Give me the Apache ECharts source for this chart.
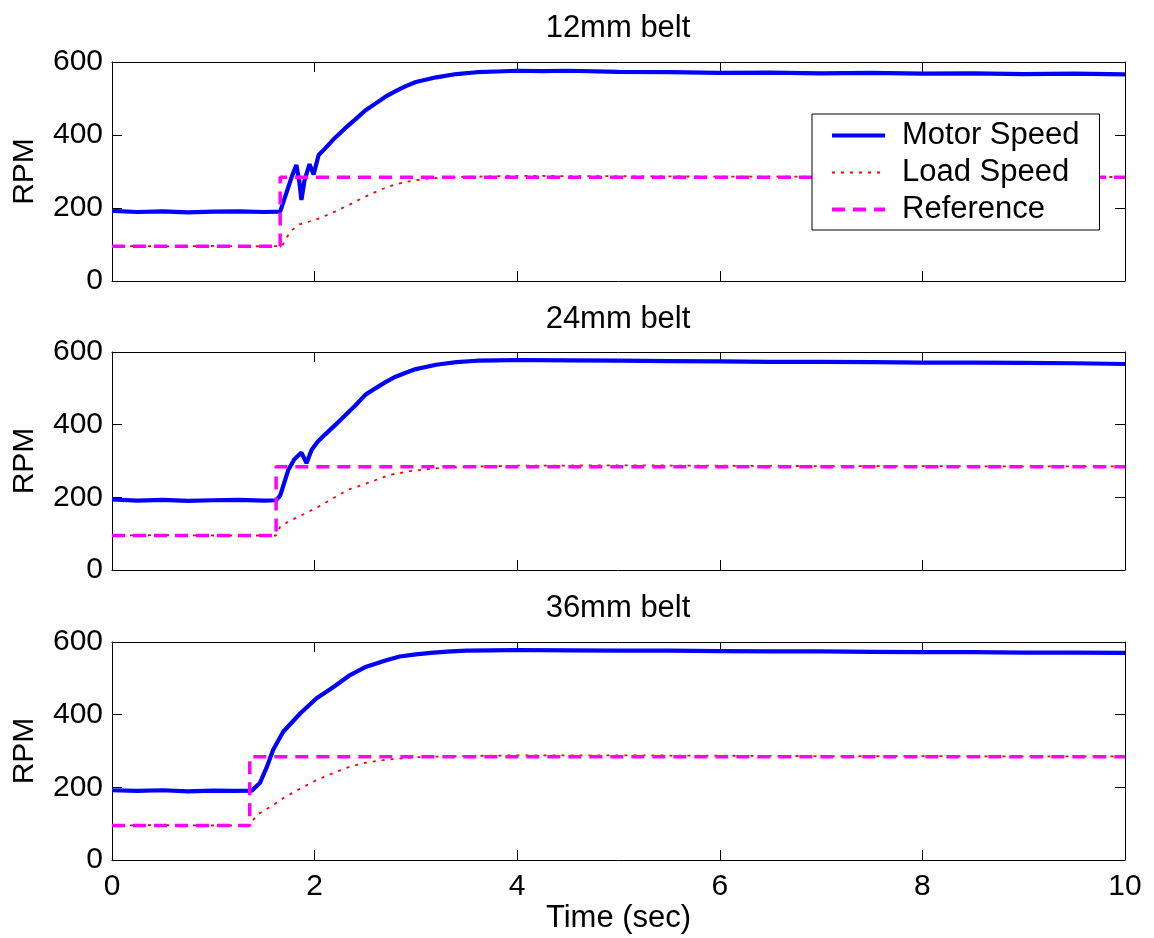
<!DOCTYPE html>
<html>
<head>
<meta charset="utf-8">
<script src="https://cdn.jsdelivr.net/npm/echarts@6/dist/echarts.min.js"></script>
<style>html,body{margin:0;padding:0;background:#fff;}#c{width:1154px;height:938px;}</style>
</head>
<body>
<div id="c"></div>
<script>
// ---------- data ----------
const titles = ['12mm belt', '24mm belt', '36mm belt'];
const seriesNames = ['Motor Speed', 'Load Speed', 'Reference'];
const xTicks = [0, 2, 4, 6, 8, 10];
const yTicks = [0, 200, 400, 600];

// 12mm belt
const tMotor1 = [0,0.25,0.5,0.75,1.0,1.25,1.5,1.66,1.72,1.78,1.82,1.85,1.87,1.90,1.95,1.99,2.04,2.1,2.2,2.3,2.4,2.5,2.6,2.7,2.8,2.9,3.0,3.2,3.4,3.6,3.8,4.0,4.25,4.5,5,5.5,6,6.5,7,7.5,8,8.5,9,9.5,10];
const motor1  = [192,189,191,188,190,191,189,190,240,290,318,270,222,275,320,292,345,362,392,418,442,467,486,505,520,534,545,558,567,572,574,576,575,576,573,572,570,571,569,570,568,569,567,568,566];
const tLoad1 = [0,0.5,1.0,1.5,1.68,1.72,1.78,1.85,1.95,2.05,2.2,2.35,2.5,2.65,2.8,2.95,3.1,3.3,3.6,4,5,6,7,8,9,10];
const load1  = [96,95,96,95,96,118,140,155,163,172,190,210,231,250,265,274,280,284,286,288,287,286,286,285,285,285];
const tRef1 = [0,1.66,1.66,10];
const ref1  = [95,95,284,284];

// 24mm belt
const tMotor2 = [0,0.25,0.5,0.75,1,1.25,1.5,1.62,1.66,1.70,1.74,1.80,1.87,1.92,1.97,2.03,2.1,2.2,2.3,2.4,2.5,2.6,2.7,2.8,2.9,3.0,3.2,3.4,3.6,3.8,4.0,4.5,5,5.5,6,6.5,7,7.5,8,8.5,9,9.5,10];
const motor2  = [194,191,193,190,192,193,191,192,205,240,275,305,323,294,330,353,372,398,425,452,482,500,517,532,543,553,565,572,576,577,578,577,576,575,574,573,573,572,571,571,570,569,567];
const tLoad2 = [0,0.5,1.0,1.62,1.66,1.75,1.86,2.07,2.2,2.32,2.45,2.56,2.74,2.97,3.24,3.6,4,5,6,7,8,9,10];
const load2  = [95,96,95,95,119,135,149,179,200,220,232,243,262,273,281,285,287,288,287,286,286,285,285];
const tRef2 = [0,1.62,1.62,10];
const ref2  = [95,95,284,284];

// 36mm belt
const tMotor3 = [0,0.25,0.5,0.75,1,1.2,1.38,1.46,1.53,1.59,1.69,1.86,2.02,2.19,2.35,2.51,2.7,2.84,3.0,3.17,3.35,3.5,3.75,4,4.5,5,5.5,6,6.5,7,7.5,8,8.5,9,9.5,10];
const motor3  = [192,190,192,189,191,190,191,212,257,303,353,404,445,477,509,532,549,560,566,571,574,576,577,578,577,576,576,575,574,574,573,572,572,571,571,570];
const tLoad3 = [0,0.5,1.0,1.36,1.40,1.43,1.59,1.69,1.86,2.02,2.19,2.35,2.51,2.68,3.01,3.4,4,5,6,7,8,9,10];
const load3  = [95,96,95,95,112,124,151,170,197,220,240,257,268,275,283,286,288,288,287,286,286,285,285];
const tRef3 = [0,1.36,1.36,10];
const ref3  = [95,95,284,284];

// ---------- chart ----------
const FONT = "'Liberation Sans', Arial, Helvetica, sans-serif";
const pairs = (t, v) => t.map((x, i) => [x, v[i]]);
const panels = [
  {motor: pairs(tMotor1, motor1), load: pairs(tLoad1, load1), ref: pairs(tRef1, ref1)},
  {motor: pairs(tMotor2, motor2), load: pairs(tLoad2, load2), ref: pairs(tRef2, ref2)},
  {motor: pairs(tMotor3, motor3), load: pairs(tLoad3, load3), ref: pairs(tRef3, ref3)}
];
const gridTops = [62, 352, 642];
const gridH = [219, 218, 218];
const titleTops = [13, 304, 593];

const styles = [
  {color: '#0000ff', width: 4.2, type: 'solid'},
  {color: '#ff0000', width: 1.8, type: [3, 6]},
  {color: '#ff00ff', width: 3.5, type: [13, 8]}
];

const grids = [], xAxes = [], yAxes = [], series = [], title = [];
const axisLine = {show: true, onZero: false, lineStyle: {color: '#000', width: 1}};
const axisTick = {show: true, inside: true, length: 10, lineStyle: {color: '#000', width: 1}};
for (let g = 0; g < 3; g++) {
  grids.push({left: 112, right: 29, top: gridTops[g], height: gridH[g], containLabel: false});
  title.push({text: titles[g], left: 618, textAlign: 'center', top: titleTops[g], padding: 0,
    textStyle: {fontFamily: FONT, fontSize: 31, fontWeight: 'normal', color: '#000'}});
  const xBase = {type: 'value', gridIndex: g, min: xTicks[0], max: xTicks[xTicks.length-1], interval: 2,
    axisLine, axisTick, splitLine: {show: false}};
  xAxes.push(Object.assign({}, xBase, {position: 'bottom',
    axisLabel: {show: g === 2, margin: 12, fontFamily: FONT, fontSize: 30, color: '#000'},
    name: g === 2 ? 'Time (sec)' : '', nameLocation: 'middle', nameGap: 40,
    nameTextStyle: {fontFamily: FONT, fontSize: 31, color: '#000'}}));
  xAxes.push(Object.assign({}, xBase, {position: 'top', axisLabel: {show: false}}));
  const yBase = {type: 'value', gridIndex: g, min: yTicks[0], max: yTicks[yTicks.length-1], interval: 200,
    axisLine, axisTick, splitLine: {show: false}};
  yAxes.push(Object.assign({}, yBase, {position: 'left',
    axisLabel: {margin: 9, fontFamily: FONT, fontSize: 30, color: '#000'},
    name: 'RPM', nameLocation: 'middle', nameGap: 72, nameRotate: 90,
    nameTextStyle: {fontFamily: FONT, fontSize: 30, color: '#000'}}));
  yAxes.push(Object.assign({}, yBase, {position: 'right', axisLabel: {show: false}}));

  const data = [panels[g].motor, panels[g].load, panels[g].ref];
  for (let s = 0; s < 3; s++) {
    series.push({name: seriesNames[s], type: 'line', xAxisIndex: 2*g, yAxisIndex: 2*g,
      data: data[s], showSymbol: false, symbol: 'none', z: 2 + s, silent: true,
      lineStyle: Object.assign({}, styles[s]), itemStyle: {color: styles[s].color}});
  }
}

const chart = echarts.init(document.getElementById('c'), null, {renderer: 'canvas'});
chart.setOption({
  animation: false,
  backgroundColor: '#fff',
  title,
  grid: grids,
  xAxis: xAxes,
  yAxis: yAxes,
  legend: {
    data: seriesNames.map((n, i) => ({name: n, lineStyle: Object.assign({}, styles[i], {width: i === 1 ? 2 : 4})})),
    orient: 'vertical', left: 812, top: 114, z: 20, zlevel: 0,
    itemWidth: 53, itemHeight: 14, itemGap: 0,
    padding: [3, 20, 2, 18],
    backgroundColor: '#fff', borderColor: '#000', borderWidth: 1, borderRadius: 0,
    selectedMode: false,
    itemStyle: {color: 'rgba(0,0,0,0)', borderWidth: 0, opacity: 0},
    textStyle: {fontFamily: FONT, fontSize: 31, color: '#000', lineHeight: 37, padding: [0, 0, 0, 12]}
  },
  series
});
</script>
</body>
</html>
